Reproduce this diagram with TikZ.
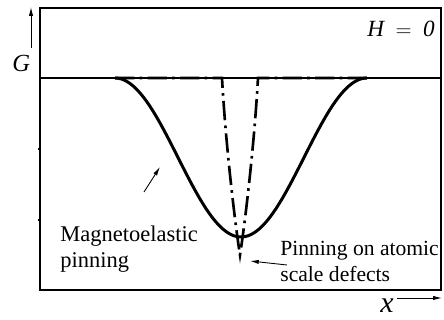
\documentclass[tikz,border=0pt]{standalone}
\usepackage{fontspec}
\setmainfont{Liberation Serif}
\usetikzlibrary{arrows.meta}
\newcommand\notefont{\fontsize{12.3}{14.8}\selectfont}
\newcommand\axisfont{\fontsize{14}{16}\selectfont\itshape}

\begin{document}
\begin{tikzpicture}[
  x=0.02cm, y=-0.02cm,
  every node/.style={inner sep=0pt},
  frame/.style={line width=0.6pt},
  wall/.style={line width=1.7pt},
  atomic/.style={line width=1.5pt, dash pattern=on 11pt off 3pt on 1.5pt off 3pt},
  pointer/.style={line width=0.5pt, -{Latex[length=5pt,width=2.4pt]}},
  note/.style={font=\notefont, align=left, anchor=base west},
]
  \useasboundingbox (0,0) rectangle (444,320);
  % frame and zero level
  \coordinate (nw) at (40,8);
  \coordinate (se) at (441,290);
  \draw[frame] (nw) rectangle (se);
  \draw[frame] (40,78) -- (441,78);
  % small ticks on the G axis
  \draw[frame] (38,149) -- (40,149);
  \draw[frame] (38,220) -- (40,220);
  % axes
  \coordinate (g tail) at (31,48);
  \coordinate (g tip) at (31,7);
  \draw[pointer] (g tail) -- (g tip);
  \node[anchor=base west, font=\axisfont] (G) at (12,72) {G};
  \coordinate (x tail) at (397,298);
  \coordinate (x tip) at (442,298);
  \draw[pointer] (x tail) -- (x tip);
  \node[anchor=base west, font=\fontsize{17}{19}\selectfont\itshape] (X) at (380,313) {x};
  \node[anchor=base west, font=\fontsize{13.2}{15}\selectfont] (H) at (367,37)
    {\textit{H}\hspace{0.45em}$=$\hspace{0.5em}\textit{0}};
  % magnetoelastic pinning well
  \draw[wall] plot[domain=115:367, samples=90]
    (\x, {78+79.5*(1+cos(1.428571*(\x-241)))});
  % pinning on atomic scale defects
  \draw[atomic] (115,78) -- (222,78)
    .. controls (226,150) and (236,230) .. (240,255)
    .. controls (244,230) and (254,150) .. (258,78) -- (367,78);
  % labels (base = last line)
  \node[note, font=\fontsize{12.8}{14.8}\selectfont] (me) at (60,268) {Magnetoelastic\\pinning};
  \coordinate (me tail) at (144,192);
  \coordinate (me tip) at (160,167);
  \draw[pointer] (me tail) -- (me tip);
  \node[note] (ad) at (280,282) {Pinning on atomic\\scale defects};
  \coordinate (ad tail) at (287,265);
  \coordinate (ad tip) at (250,261);
  \draw[pointer] (ad tail) -- (ad tip);
\end{tikzpicture}
\end{document}
